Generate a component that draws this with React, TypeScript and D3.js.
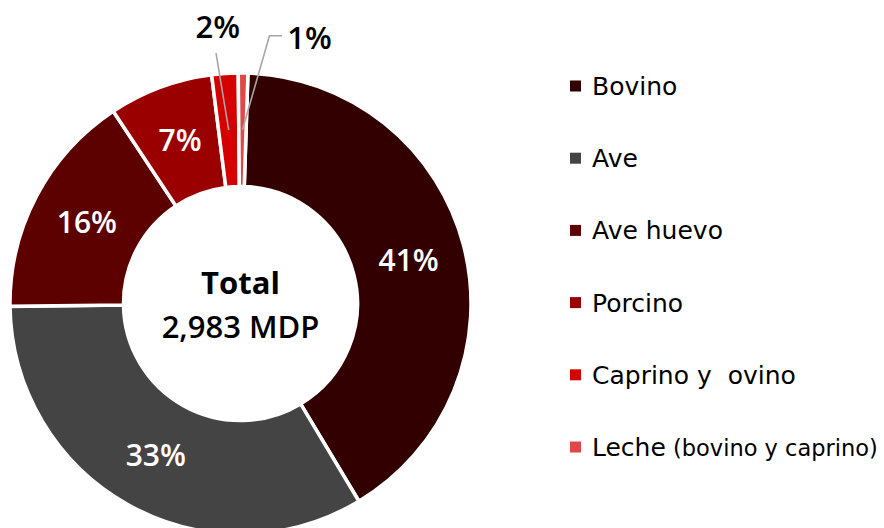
import React from 'react';
import * as d3 from 'd3';

const categories = ['Bovino', 'Ave', 'Ave huevo', 'Porcino', 'Caprino y  ovino', 'Leche'];
const legendSuffix = ['', '', '', '', '', ' (bovino y caprino)'];
const values = [1220, 996, 474, 218, 55, 20]; // MDP
const colors = ['#330000', '#444444', '#5c0000', '#9b0000', '#d50000', '#e04848'];
const totalLabel = 'Total';
const totalValue = '2,983 MDP';

const W = 884;
const H = 528;
const FONT = "'Open Sans', 'Noto Sans', sans-serif";
const LEGEND_FONT = "'DejaVu Sans', 'Open Sans', sans-serif";

export default function App() {
  const cx = 240.5;
  const cy = 303.5;
  const outerR = 230.5;
  const innerR = 117;
  const start = (1.85 * Math.PI) / 180;

  const total = d3.sum(values);
  const pie = d3
    .pie<number>()
    .sort(null)
    .startAngle(start)
    .endAngle(start + 2 * Math.PI);
  const arcs = pie(values);
  const arc = d3.arc<d3.PieArcDatum<number>>().innerRadius(innerR).outerRadius(outerR);
  const labelArc = d3
    .arc<d3.PieArcDatum<number>>()
    .innerRadius((innerR + outerR) / 2)
    .outerRadius((innerR + outerR) / 2);

  const pct = (v: number) => `${Math.round((v / total) * 100)}%`;

  const legendY = d3.scalePoint<number>().domain(d3.range(categories.length)).range([86, 447]);

  // outside labels for small slices
  const c4 = labelArc.centroid(arcs[4]);
  const c5 = labelArc.centroid(arcs[5]);

  return (
    <svg
      width={W}
      height={H}
      style={{ position: 'absolute', left: 0, top: 0, background: '#fff' }}
      fontFamily={FONT}
    >
      <g transform={`translate(${cx},${cy})`}>
        {arcs.map((a, i) => (
          <path key={i} d={arc(a) || ''} fill={colors[i]} stroke="#fff" strokeWidth={3.5} />
        ))}
        {arcs.slice(0, 4).map((a, i) => {
          const [x, y] = labelArc.centroid(a);
          return (
            <text
              key={i}
              x={x}
              y={y}
              dy="0.36em"
              textAnchor="middle"
              fill="#fff"
              fontSize={30}
              fontWeight={600}
            >
              {pct(a.value)}
            </text>
          );
        })}
        {/* leader lines */}
        <polyline
          points={`${c4[0]},${c4[1]} ${c4[0] - 12.7},${c4[1] - 77}`}
          fill="none"
          stroke="#a6a6a6"
          strokeWidth={1.6}
        />
        <polyline
          points={`${c5[0]},${c5[1]} ${c5[0] + 27},${c5[1] - 94} ${c5[0] + 39.5},${c5[1] - 94}`}
          fill="none"
          stroke="#a6a6a6"
          strokeWidth={1.6}
        />
        <text x={c4[0] - 11} y={c4[1] - 103} dy="0.36em" textAnchor="middle" fill="#000" fontSize={31} fontWeight={600}>
          {pct(values[4])}
        </text>
        <text x={c5[0] + 67} y={c5[1] - 92} dy="0.36em" textAnchor="middle" fill="#000" fontSize={31} fontWeight={600}>
          {pct(values[5])}
        </text>
        <text x={0} y={-21} dy="0.36em" textAnchor="middle" fill="#000" fontSize={31} fontWeight={700}>
          {totalLabel}
        </text>
        <text x={0} y={23} dy="0.36em" textAnchor="middle" fill="#000" fontSize={31} fontWeight={600}>
          {totalValue}
        </text>
      </g>
      <g fontFamily={LEGEND_FONT}>
        {categories.map((c, i) => (
          <g key={i} transform={`translate(570,${legendY(i)})`}>
            <rect x={0} y={-5.5} width={11} height={11} fill={colors[i]} />
            <text x={22} y={0} dy="0.36em" fontSize={25} fill="#000" style={{ whiteSpace: 'pre' }}>
              {c}
              {legendSuffix[i] && <tspan fontSize={22.5}>{legendSuffix[i]}</tspan>}
            </text>
          </g>
        ))}
      </g>
    </svg>
  );
}
